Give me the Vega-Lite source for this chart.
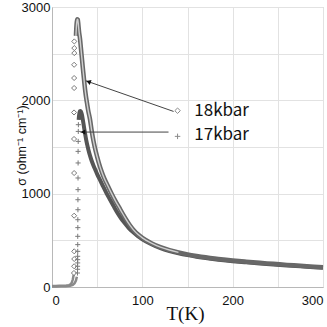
{
"$schema": "https://vega.github.io/schema/vega-lite/v6.json",
"width": 271, "height": 280,
"autosize": "none",
"padding": {"left": 52, "top": 7, "right": 4, "bottom": 40},
"background": "white",
"config": {"view": {"stroke": "#c8c8c8"}, "axis": {"gridColor": "#e2e2e2", "domainColor": "#b8b8b8", "ticks": false, "labelFont": "Liberation Sans", "labelFontSize": 13, "labelColor": "#111111"}},
"datasets": {
"curves": [
{"T":0,"s":12,"series":"18kbar","part":"low"},{"T":4,"s":12,"series":"18kbar","part":"low"},{"T":8,"s":13,"series":"18kbar","part":"low"},{"T":12,"s":14,"series":"18kbar","part":"low"},{"T":16,"s":16,"series":"18kbar","part":"low"},{"T":19,"s":20,"series":"18kbar","part":"low"},{"T":21,"s":32,"series":"18kbar","part":"low"},{"T":22,"s":50,"series":"18kbar","part":"low"},{"T":23,"s":80,"series":"18kbar","part":"low"},{"T":24,"s":130,"series":"18kbar","part":"low"},
{"T":24.3,"s":150,"series":"18kbar","part":"rise"},{"T":24.5,"s":222,"series":"18kbar","part":"rise"},{"T":24.6,"s":300,"series":"18kbar","part":"rise"},{"T":24.6,"s":382,"series":"18kbar","part":"rise"},{"T":24.5,"s":764,"series":"18kbar","part":"rise"},{"T":24.5,"s":1221,"series":"18kbar","part":"rise"},{"T":24.4,"s":1586,"series":"18kbar","part":"rise"},{"T":24.4,"s":1870,"series":"18kbar","part":"rise"},{"T":24.5,"s":2132,"series":"18kbar","part":"rise"},{"T":24.5,"s":2239,"series":"18kbar","part":"rise"},{"T":24.5,"s":2381,"series":"18kbar","part":"rise"},{"T":24.7,"s":2506,"series":"18kbar","part":"rise"},{"T":24.7,"s":2560,"series":"18kbar","part":"rise"},{"T":24.7,"s":2631,"series":"18kbar","part":"rise"},
{"T":26.5,"s":2690,"series":"18kbar","part":"decay"},{"T":27,"s":2790,"series":"18kbar","part":"decay"},{"T":27.5,"s":2845,"series":"18kbar","part":"decay"},{"T":28,"s":2870,"series":"18kbar","part":"decay"},{"T":28.5,"s":2865,"series":"18kbar","part":"decay"},{"T":29,"s":2830,"series":"18kbar","part":"decay"},{"T":29.5,"s":2780,"series":"18kbar","part":"decay"},{"T":30,"s":2730,"series":"18kbar","part":"decay"},{"T":31,"s":2660,"series":"18kbar","part":"decay"},{"T":32,"s":2560,"series":"18kbar","part":"decay"},{"T":33,"s":2460,"series":"18kbar","part":"decay"},{"T":34,"s":2360,"series":"18kbar","part":"decay"},{"T":35,"s":2265,"series":"18kbar","part":"decay"},{"T":36,"s":2170,"series":"18kbar","part":"decay"},{"T":37,"s":2085,"series":"18kbar","part":"decay"},{"T":38,"s":2015,"series":"18kbar","part":"decay"},{"T":39,"s":1955,"series":"18kbar","part":"decay"},{"T":40,"s":1895,"series":"18kbar","part":"decay"},{"T":42,"s":1800,"series":"18kbar","part":"decay"},{"T":44,"s":1670,"series":"18kbar","part":"decay"},{"T":46,"s":1560,"series":"18kbar","part":"decay"},{"T":48,"s":1470,"series":"18kbar","part":"decay"},{"T":50,"s":1395,"series":"18kbar","part":"decay"},{"T":52,"s":1325,"series":"18kbar","part":"decay"},{"T":55,"s":1235,"series":"18kbar","part":"decay"},{"T":58,"s":1160,"series":"18kbar","part":"decay"},{"T":62,"s":1080,"series":"18kbar","part":"decay"},{"T":66,"s":1000,"series":"18kbar","part":"decay"},{"T":70,"s":925,"series":"18kbar","part":"decay"},{"T":74,"s":858,"series":"18kbar","part":"decay"},{"T":78,"s":790,"series":"18kbar","part":"decay"},{"T":82,"s":725,"series":"18kbar","part":"decay"},{"T":86,"s":665,"series":"18kbar","part":"decay"},{"T":90,"s":615,"series":"18kbar","part":"decay"},{"T":95,"s":565,"series":"18kbar","part":"decay"},{"T":100,"s":527,"series":"18kbar","part":"decay"},{"T":110,"s":470,"series":"18kbar","part":"decay"},{"T":120,"s":427,"series":"18kbar","part":"decay"},{"T":130,"s":396,"series":"18kbar","part":"decay"},{"T":140,"s":371,"series":"18kbar","part":"decay"},{"T":150,"s":350,"series":"18kbar","part":"decay"},{"T":160,"s":333,"series":"18kbar","part":"decay"},{"T":170,"s":318,"series":"18kbar","part":"decay"},{"T":180,"s":305,"series":"18kbar","part":"decay"},{"T":190,"s":294,"series":"18kbar","part":"decay"},{"T":200,"s":284,"series":"18kbar","part":"decay"},{"T":215,"s":271,"series":"18kbar","part":"decay"},{"T":230,"s":259,"series":"18kbar","part":"decay"},{"T":245,"s":248,"series":"18kbar","part":"decay"},{"T":260,"s":237,"series":"18kbar","part":"decay"},{"T":275,"s":227,"series":"18kbar","part":"decay"},{"T":290,"s":217,"series":"18kbar","part":"decay"},{"T":300,"s":211,"series":"18kbar","part":"decay"},
{"T":0,"s":5,"series":"17kbar","part":"low"},{"T":5,"s":6,"series":"17kbar","part":"low"},{"T":10,"s":7,"series":"17kbar","part":"low"},{"T":15,"s":9,"series":"17kbar","part":"low"},{"T":20,"s":13,"series":"17kbar","part":"low"},{"T":23,"s":22,"series":"17kbar","part":"low"},{"T":25,"s":40,"series":"17kbar","part":"low"},{"T":26.5,"s":70,"series":"17kbar","part":"low"},{"T":27.5,"s":110,"series":"17kbar","part":"low"},
{"T":28.2,"s":150,"series":"17kbar","part":"rise"},{"T":28.3,"s":190,"series":"17kbar","part":"rise"},{"T":28.3,"s":222,"series":"17kbar","part":"rise"},{"T":28.4,"s":258,"series":"17kbar","part":"rise"},{"T":28.4,"s":293,"series":"17kbar","part":"rise"},{"T":28.4,"s":329,"series":"17kbar","part":"rise"},{"T":28.5,"s":382,"series":"17kbar","part":"rise"},{"T":28.5,"s":454,"series":"17kbar","part":"rise"},{"T":28.5,"s":543,"series":"17kbar","part":"rise"},{"T":28.6,"s":636,"series":"17kbar","part":"rise"},{"T":28.6,"s":721,"series":"17kbar","part":"rise"},{"T":28.7,"s":828,"series":"17kbar","part":"rise"},{"T":28.7,"s":935,"series":"17kbar","part":"rise"},{"T":28.8,"s":1043,"series":"17kbar","part":"rise"},{"T":28.8,"s":1168,"series":"17kbar","part":"rise"},{"T":28.9,"s":1329,"series":"17kbar","part":"rise"},{"T":28.9,"s":1453,"series":"17kbar","part":"rise"},{"T":29,"s":1560,"series":"17kbar","part":"rise"},{"T":29.1,"s":1667,"series":"17kbar","part":"rise"},{"T":29.2,"s":1739,"series":"17kbar","part":"rise"},
{"T":29.5,"s":1790,"series":"17kbar","part":"decay"},{"T":30,"s":1840,"series":"17kbar","part":"decay"},{"T":30.5,"s":1870,"series":"17kbar","part":"decay"},{"T":31,"s":1885,"series":"17kbar","part":"decay"},{"T":31.5,"s":1887,"series":"17kbar","part":"decay"},{"T":32,"s":1880,"series":"17kbar","part":"decay"},{"T":33,"s":1850,"series":"17kbar","part":"decay"},{"T":34,"s":1800,"series":"17kbar","part":"decay"},{"T":35,"s":1740,"series":"17kbar","part":"decay"},{"T":36,"s":1680,"series":"17kbar","part":"decay"},{"T":37,"s":1622,"series":"17kbar","part":"decay"},{"T":38,"s":1567,"series":"17kbar","part":"decay"},{"T":40,"s":1482,"series":"17kbar","part":"decay"},{"T":42,"s":1410,"series":"17kbar","part":"decay"},{"T":44,"s":1350,"series":"17kbar","part":"decay"},{"T":46,"s":1300,"series":"17kbar","part":"decay"},{"T":48,"s":1255,"series":"17kbar","part":"decay"},{"T":50,"s":1210,"series":"17kbar","part":"decay"},{"T":53,"s":1150,"series":"17kbar","part":"decay"},{"T":56,"s":1090,"series":"17kbar","part":"decay"},{"T":60,"s":1012,"series":"17kbar","part":"decay"},{"T":64,"s":940,"series":"17kbar","part":"decay"},{"T":68,"s":870,"series":"17kbar","part":"decay"},{"T":72,"s":802,"series":"17kbar","part":"decay"},{"T":76,"s":742,"series":"17kbar","part":"decay"},{"T":80,"s":690,"series":"17kbar","part":"decay"},{"T":85,"s":632,"series":"17kbar","part":"decay"},{"T":90,"s":586,"series":"17kbar","part":"decay"},{"T":95,"s":546,"series":"17kbar","part":"decay"},{"T":100,"s":512,"series":"17kbar","part":"decay"},{"T":110,"s":459,"series":"17kbar","part":"decay"},{"T":120,"s":417,"series":"17kbar","part":"decay"},{"T":130,"s":386,"series":"17kbar","part":"decay"},{"T":140,"s":362,"series":"17kbar","part":"decay"},{"T":150,"s":342,"series":"17kbar","part":"decay"},{"T":160,"s":325,"series":"17kbar","part":"decay"},{"T":170,"s":311,"series":"17kbar","part":"decay"},{"T":180,"s":298,"series":"17kbar","part":"decay"},{"T":190,"s":287,"series":"17kbar","part":"decay"},{"T":200,"s":277,"series":"17kbar","part":"decay"},{"T":215,"s":264,"series":"17kbar","part":"decay"},{"T":230,"s":252,"series":"17kbar","part":"decay"},{"T":245,"s":241,"series":"17kbar","part":"decay"},{"T":260,"s":231,"series":"17kbar","part":"decay"},{"T":275,"s":221,"series":"17kbar","part":"decay"},{"T":290,"s":211,"series":"17kbar","part":"decay"},{"T":300,"s":205,"series":"17kbar","part":"decay"}
],
"arrows": [
{"T":134.6,"s":1881,"T2":37.3,"s2":2210},
{"T":129,"s":1660,"T2":31.3,"s2":1660}
],
"heads": [
{"T":40.4,"s":2200,"angle":19.3},
{"T":34.4,"s":1660,"angle":0}
],
"keys": [
{"T":139,"s":1889,"series":"18kbar"},
{"T":139,"s":1614,"series":"17kbar"}
],
"labels": [
{"T":157.5,"s":1881,"label":"18kbar"},
{"T":157.5,"s":1632,"label":"17kbar"}
]
},
"encoding": {
"x": {"field": "T", "type": "quantitative", "scale": {"domain": [0, 300], "nice": false},
 "axis": {"values": [0, 50, 100, 150, 200, 250, 300], "labelExpr": "datum.value % 100 == 0 ? datum.label : ''", "labelPadding": 7, "title": "T(K)", "titleFont": "Liberation Serif", "titleFontSize": 19, "titleFontWeight": "normal", "titleColor": "#111111", "titleX": 133, "titleY": 26, "titleBaseline": "middle", "titleAlign": "center"}},
"y": {"field": "s", "type": "quantitative", "scale": {"domain": [0, 3000], "nice": false},
 "axis": {"values": [0, 500, 1000, 1500, 2000, 2500, 3000], "format": "d", "labelExpr": "datum.value % 1000 == 0 ? datum.label : ''", "labelPadding": 2, "title": "σ (ohm⁻¹ cm⁻¹)", "titleFont": "Liberation Sans", "titleFontSize": 12.5, "titleFontWeight": "normal", "titleColor": "#111111", "titleAngle": -90, "titleX": -31, "titleY": 138, "titleBaseline": "middle", "titleAlign": "center"}}
},
"layer": [
{"data": {"name": "curves"}, "transform": [{"filter": "datum.part == 'low'"}],
 "mark": {"type": "line", "color": "#8a8a8a", "strokeWidth": 2.5},
 "encoding": {"detail": {"field": "series"}}},
{"data": {"name": "curves"}, "transform": [{"filter": "datum.part == 'decay' && datum.series == '17kbar'"}],
 "mark": {"type": "line", "color": "#555555", "strokeWidth": 4, "interpolate": "monotone"}, "encoding": {}},
{"data": {"name": "curves"}, "transform": [{"filter": "datum.part == 'decay' && datum.series == '18kbar'"}],
 "mark": {"type": "line", "color": "#686868", "strokeWidth": 4.5, "interpolate": "monotone"}, "encoding": {}},
{"data": {"name": "curves"}, "transform": [{"filter": "datum.part == 'decay' && datum.series == '18kbar' && datum.T <= 140"}],
 "mark": {"type": "line", "color": "#cfcfcf", "strokeWidth": 1.4, "interpolate": "monotone"}, "encoding": {}},
{"data": {"name": "curves"}, "transform": [{"filter": "datum.part == 'rise'"}],
 "mark": {"type": "point", "filled": false, "color": "#7a7a7a", "size": 26, "strokeWidth": 1, "opacity": 1},
 "encoding": {"shape": {"field": "series", "type": "nominal", "scale": {"domain": ["18kbar", "17kbar"], "range": ["diamond", "M-1,0L1,0M0,-1L0,1"]}, "legend": null}}},
{"data": {"name": "arrows"}, "mark": {"type": "rule", "color": "#444444", "strokeWidth": 1},
 "encoding": {"x2": {"field": "T2"}, "y2": {"field": "s2"}}},
{"data": {"name": "heads"}, "mark": {"type": "point", "shape": "triangle-left", "filled": true, "color": "#111111", "size": 28, "opacity": 1},
 "encoding": {"angle": {"field": "angle", "type": "quantitative", "scale": null}}},
{"data": {"name": "keys"}, "mark": {"type": "point", "filled": false, "color": "#8a8a8a", "size": 30, "strokeWidth": 1, "opacity": 1},
 "encoding": {"shape": {"field": "series", "type": "nominal", "scale": {"domain": ["18kbar", "17kbar"], "range": ["diamond", "M-1,0L1,0M0,-1L0,1"]}, "legend": null}}},
{"data": {"name": "labels"}, "mark": {"type": "text", "align": "left", "baseline": "middle", "font": "Noto Sans CJK JP", "fontSize": 17, "color": "#111111"},
 "encoding": {"text": {"field": "label"}}}
]
}
